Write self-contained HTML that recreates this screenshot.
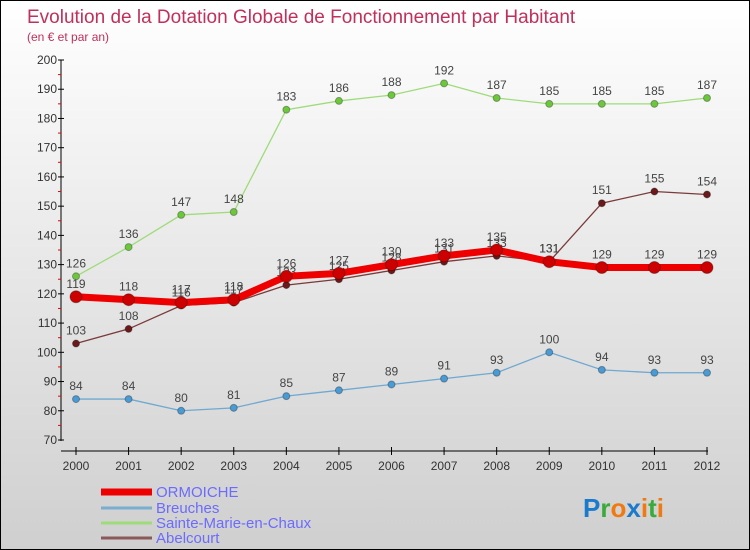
<!DOCTYPE html>
<html><head><meta charset="utf-8"><style>
body{margin:0}
#wrap{width:750px;height:550px;position:relative;box-sizing:border-box;border:1px solid #000;background:linear-gradient(#ffffff,#cfcfcf);font-family:"Liberation Sans",sans-serif;overflow:hidden}
</style></head><body>
<div id="wrap">
<svg id="chart" width="748" height="548" style="position:absolute;left:0;top:0"></svg>
</div>
<script>
const years=[2000,2001,2002,2003,2004,2005,2006,2007,2008,2009,2010,2011,2012];
const ormoiche=[119,118,117,118,126,127,130,133,135,131,129,129,129];
const breuches=[84,84,80,81,85,87,89,91,93,100,94,93,93];
const sainteMarie=[126,136,147,148,183,186,188,192,187,185,185,185,187];
const abelcourt=[103,108,116,117,123,125,128,131,133,131,151,155,154];
const yTicks=[70,80,90,100,110,120,130,140,150,160,170,180,190,200];
const NS='http://www.w3.org/2000/svg';
const svg=document.getElementById('chart');
const X=i=>75+i*(706-75)/(years.length-1);
const Y=v=>59+(200-v)*(439-59)/130;
function mk(t,a,p){const e=document.createElementNS(NS,t);for(const k in a)e.setAttribute(k,a[k]);(p||svg).appendChild(e);return e;}
let t=mk('text',{x:26,y:22,fill:'#c0305a','font-size':19});t.textContent='Evolution de la Dotation Globale de Fonctionnement par Habitant';


t=mk('text',{x:26,y:40,fill:'#c0305a','font-size':12});t.textContent='(en € et par an)';


// axes
let a=mk('line',{x1:60,y1:59,x2:60,y2:440,stroke:'#000'});


a=mk('line',{x1:60,y1:450,x2:707,y2:450,stroke:'#000'});


yTicks.forEach((v,i)=>{const y=Y(v);mk('line',{x1:57,y1:y,x2:63,y2:y,stroke:'#000'});
 if(i<yTicks.length-1)mk('line',{x1:57,y1:Y(v+5),x2:60,y2:Y(v+5),stroke:'#e00'});
 const l=mk('text',{x:56,y:y+4,'text-anchor':'end','font-size':12,fill:'#333'});l.textContent=v;
 
 });
years.forEach((yr,i)=>{const x=X(i);mk('line',{x1:x,y1:446,x2:x,y2:454,stroke:'#000'});
 const l=mk('text',{x:x,y:469,'text-anchor':'middle','font-size':12,fill:'#333'});l.textContent=yr;
 
 });
function series(name,vals,color,w,dot,dotFill){
 const g=mk('g',{});
 
 
 mk('polyline',{points:vals.map((v,i)=>X(i)+','+Y(v)).join(' '),fill:'none',stroke:color,'stroke-width':w},g);
 vals.forEach((v,i)=>{const c=mk('circle',{cx:X(i),cy:Y(v),r:dot,fill:dotFill,stroke:'rgba(0,0,0,0.3)'},g);
  
  
  const l=mk('text',{x:X(i),y:Y(v)-9,'text-anchor':'middle','font-size':12,fill:'#444'},g);l.textContent=v;
  
  });
}
series('breuches',breuches,'#6fa8d0',1.3,3.5,'#4a9ad4');
series('sainte-marie',sainteMarie,'#9edc7a',1.3,3.5,'#6cc73c');
series('abelcourt',abelcourt,'#7a3a3a',1.3,3.5,'#6a1a1a');
series('ormoiche',ormoiche,'#e00',7,6,'#c00');
// legend
const leg=[['ORMOICHE','#e00',7,496],['Breuches','#7aaed0',3,512],['Sainte-Marie-en-Chaux','#9edc7a',3,527],['Abelcourt','#8a5a5a',3,542]];
leg.forEach(([n,c,w,y])=>{const g=mk('g',{});
 
 
 mk('line',{x1:100,y1:y-5,x2:151,y2:y-5,stroke:c,'stroke-width':w},g);
 const l=mk('text',{x:155,y:y,'font-size':15,fill:'#6b6bff'},g);l.textContent=n;});
// logo
const lg=mk('text',{x:582,y:516,'font-size':26,'font-weight':'bold'});


[['P','#1a7acc'],['r','#3aaa3a'],['o','#f07a10'],['x','#1a7acc'],['i','#f07a10'],['t','#3aaa3a'],['i','#f07a10']].forEach(([ch,c])=>{const s=mk('tspan',{fill:c},lg);s.textContent=ch;});
</script>
</body></html>
